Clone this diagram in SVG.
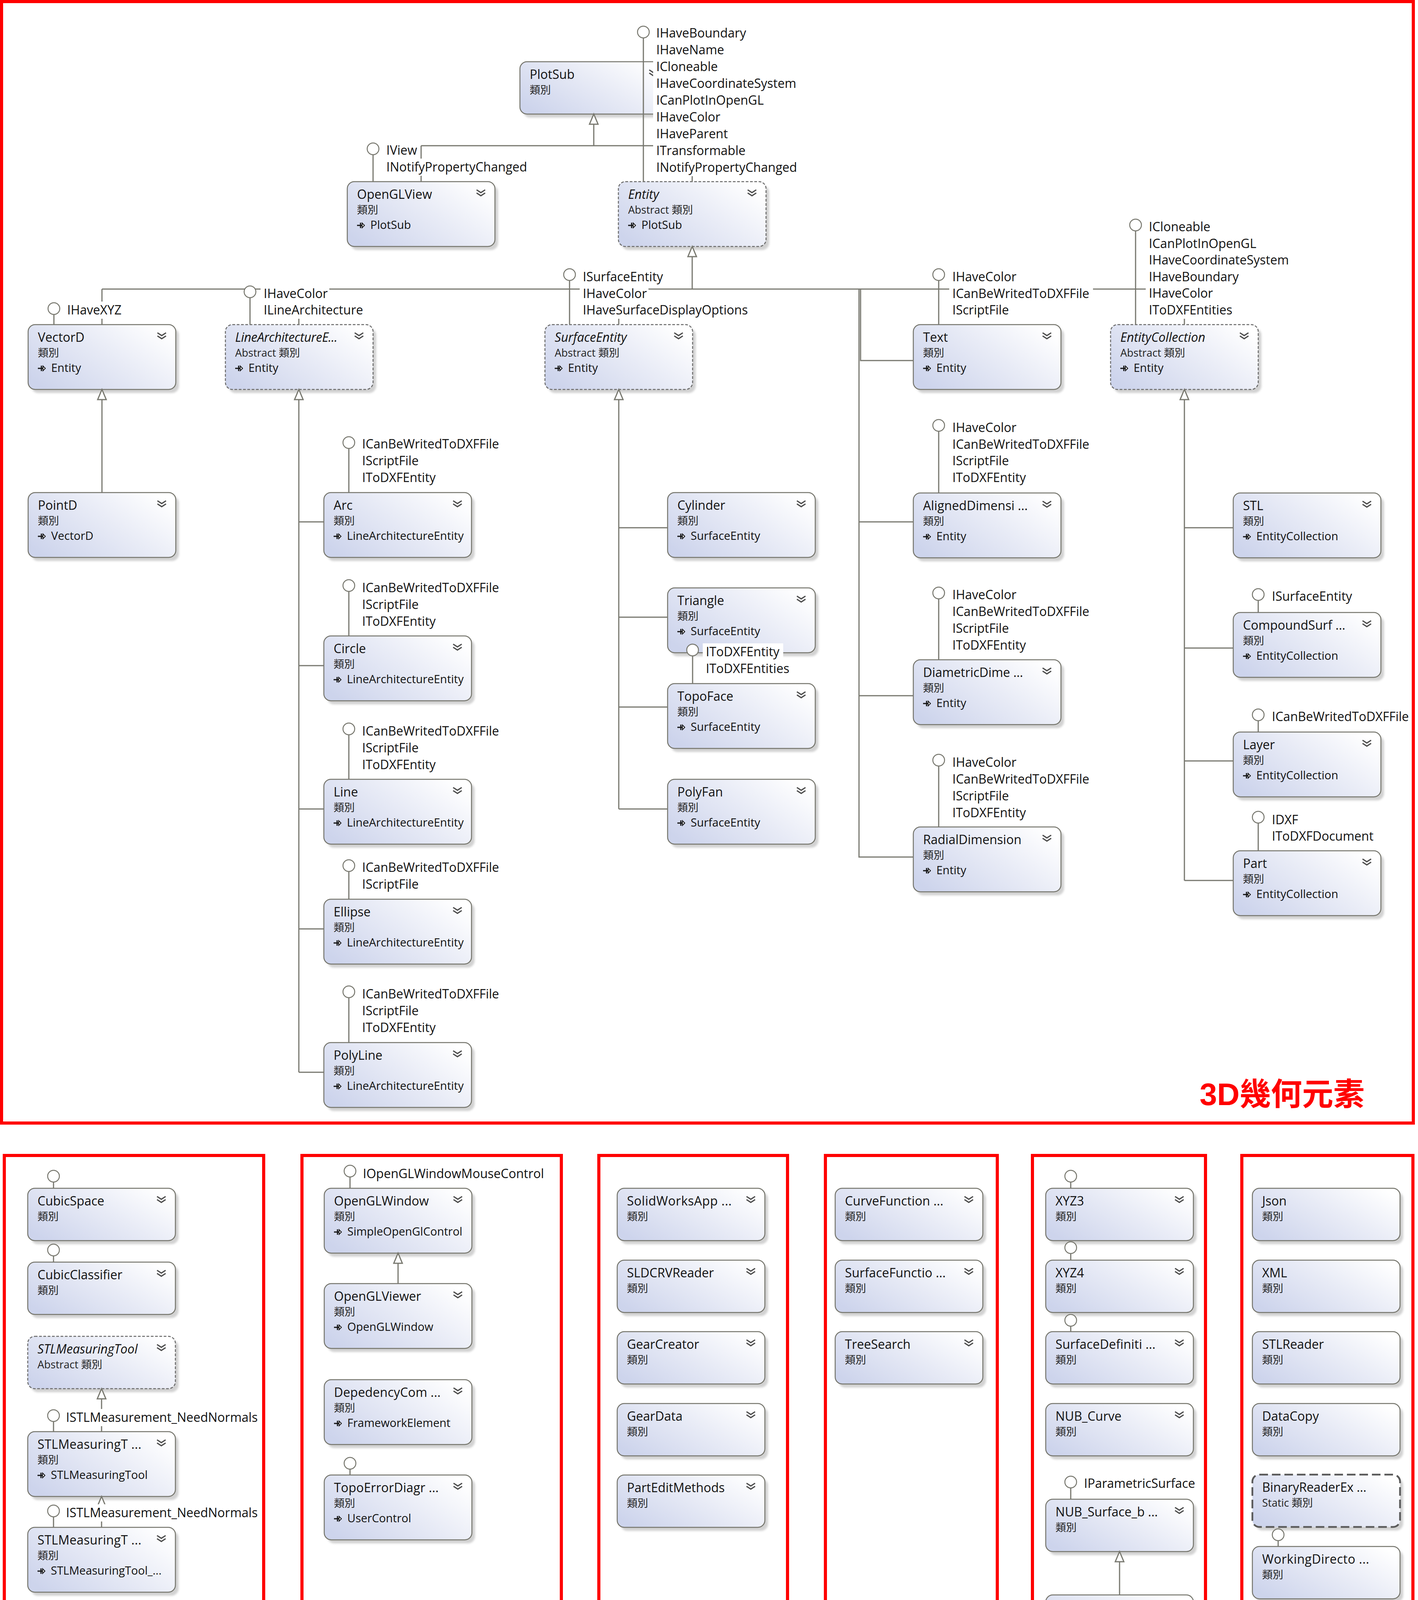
<svg xmlns="http://www.w3.org/2000/svg" width="3630" height="5307" viewBox="0 0 3630 5307">
<style>
.bx{stroke:#75756c;stroke-width:2.5}
.cl{fill:url(#gc)}
.if{fill:url(#gi)}
.en{fill:url(#ge)}
.ab{stroke-dasharray:7 4;stroke:#6a6a6a}
.stc{stroke-dasharray:22 10;stroke:#5a5a5a;stroke-width:4.5}
.sh{fill:#b4b4b4;opacity:.6;filter:url(#bl)}
text{font-family:'Open Sans','Noto Sans CJK TC',sans-serif;fill:#111}
.t{font-size:32px}
.it{font-style:italic}
.s{font-size:27px;fill:#222}
.b{font-size:29px}
.l{font-size:32px}
.lb{fill:#fff}
.rt{font-family:'Liberation Sans','Noto Sans CJK TC',sans-serif;font-weight:bold;font-size:80px;fill:#ff0000}
.rp{fill:none;stroke:#ff0000;stroke-width:8}
.cn{fill:none;stroke:#77776e;stroke-width:3}
.ar{fill:#fff;stroke:#77776e;stroke-width:3}
.lp{fill:#fff;stroke:#77776e;stroke-width:2.5}
</style>
<defs>
<linearGradient id="gc" x1="0" y1="0.8" x2="1" y2="0.2"><stop offset="0" stop-color="#cdd4ec"/><stop offset="0.55" stop-color="#e8ebf6"/><stop offset="1" stop-color="#ffffff"/></linearGradient>
<linearGradient id="gi" x1="0" y1="0.8" x2="1" y2="0.2"><stop offset="0" stop-color="#d9e6cc"/><stop offset="0.55" stop-color="#eef4ea"/><stop offset="1" stop-color="#ffffff"/></linearGradient>
<linearGradient id="ge" x1="0" y1="0.8" x2="1" y2="0.2"><stop offset="0" stop-color="#d6d0ec"/><stop offset="0.55" stop-color="#ebe8f6"/><stop offset="1" stop-color="#ffffff"/></linearGradient>
<filter id="bl" x="-5%" y="-5%" width="110%" height="115%"><feGaussianBlur stdDeviation="2.5"/></filter>
<g id="chev"><path d="M-11,-10 L0,-3 L11,-10 M-11,-2 L0,5 L11,-2" fill="none" stroke="#4a4a4a" stroke-width="3.2"/></g>
<g id="inh"><path d="M0,0 H12 M9,-7 V7" fill="none" stroke="#111" stroke-width="3"/><path d="M13,-6 L19,0 L13,6 Z" fill="#fff" stroke="#111" stroke-width="2"/></g>
<g id="c3"><rect class="sh" x="8" y="9" width="378" height="166" rx="18"/><rect class="bx cl" width="378" height="166" rx="18"/><use href="#chev" x="342" y="31"/></g>
<g id="c2"><rect class="sh" x="8" y="9" width="378" height="134" rx="18"/><rect class="bx cl" width="378" height="134" rx="18"/><use href="#chev" x="342" y="31"/></g>
<g id="a3"><rect class="sh" x="8" y="9" width="378" height="166" rx="18"/><rect class="bx cl ab" width="378" height="166" rx="18"/><use href="#chev" x="342" y="31"/></g>
<g id="a2"><rect class="sh" x="8" y="9" width="378" height="134" rx="18"/><rect class="bx cl ab" width="378" height="134" rx="18"/><use href="#chev" x="342" y="31"/></g>
<g id="n2"><rect class="sh" x="8" y="9" width="378" height="134" rx="18"/><rect class="bx cl" width="378" height="134" rx="18"/></g>
<g id="s2"><rect class="sh" x="8" y="9" width="378" height="134" rx="18"/><rect class="bx cl stc" width="378" height="134" rx="18"/></g>
<g id="i2"><rect class="sh" x="8" y="9" width="377" height="134" rx="18"/><rect class="bx if" width="377" height="134" rx="18"/><use href="#chev" x="341" y="31"/></g>
<g id="i3"><rect class="sh" x="8" y="9" width="377" height="166" rx="18"/><rect class="bx if" width="377" height="166" rx="18"/><use href="#chev" x="341" y="31"/></g>
<g id="e2"><rect class="sh" x="10" y="13" width="377" height="134"/><rect class="bx en" width="377" height="134" style="stroke:#8a8a8a"/><use href="#chev" x="341" y="31"/></g>
</defs>
<rect width="3630" height="5307" fill="#ffffff"/>

<g id="nodes">
<g id="n-PlotSub" transform="translate(1331,158)"><use href="#c2"/><text class="t" x="25" y="44">PlotSub</text><text class="s" x="25" y="82">類別</text></g>
<g id="n-OpenGLView" transform="translate(889,465)"><use href="#c3"/><text class="t" x="25" y="44">OpenGLView</text><text class="s" x="25" y="82">類別</text><use href="#inh" x="25" y="112"/><text class="b" x="59" y="121">PlotSub</text></g>
<g id="n-Entity" transform="translate(1583,465)"><use href="#a3"/><text class="t it" x="25" y="44">Entity</text><text class="s" x="25" y="82">Abstract 類別</text><use href="#inh" x="25" y="112"/><text class="b" x="59" y="121">PlotSub</text></g>
<g id="n-VectorD" transform="translate(72,831)"><use href="#c3"/><text class="t" x="25" y="44">VectorD</text><text class="s" x="25" y="82">類別</text><use href="#inh" x="25" y="112"/><text class="b" x="59" y="121">Entity</text></g>
<g id="n-LineArchitectureEntity" transform="translate(577,831)"><use href="#a3"/><text class="t it" x="25" y="44" textLength="262" lengthAdjust="spacing">LineArchitectureE...</text><text class="s" x="25" y="82">Abstract 類別</text><use href="#inh" x="25" y="112"/><text class="b" x="59" y="121">Entity</text></g>
<g id="n-SurfaceEntity" transform="translate(1395,831)"><use href="#a3"/><text class="t it" x="25" y="44">SurfaceEntity</text><text class="s" x="25" y="82">Abstract 類別</text><use href="#inh" x="25" y="112"/><text class="b" x="59" y="121">Entity</text></g>
<g id="n-Text" transform="translate(2338,831)"><use href="#c3"/><text class="t" x="25" y="44">Text</text><text class="s" x="25" y="82">類別</text><use href="#inh" x="25" y="112"/><text class="b" x="59" y="121">Entity</text></g>
<g id="n-EntityCollection" transform="translate(2843,831)"><use href="#a3"/><text class="t it" x="25" y="44">EntityCollection</text><text class="s" x="25" y="82">Abstract 類別</text><use href="#inh" x="25" y="112"/><text class="b" x="59" y="121">Entity</text></g>
<g id="n-PointD" transform="translate(72,1261)"><use href="#c3"/><text class="t" x="25" y="44">PointD</text><text class="s" x="25" y="82">類別</text><use href="#inh" x="25" y="112"/><text class="b" x="59" y="121">VectorD</text></g>
<g id="n-Arc" transform="translate(829,1261)"><use href="#c3"/><text class="t" x="25" y="44">Arc</text><text class="s" x="25" y="82">類別</text><use href="#inh" x="25" y="112"/><text class="b" x="59" y="121">LineArchitectureEntity</text></g>
<g id="n-Circle" transform="translate(829,1628)"><use href="#c3"/><text class="t" x="25" y="44">Circle</text><text class="s" x="25" y="82">類別</text><use href="#inh" x="25" y="112"/><text class="b" x="59" y="121">LineArchitectureEntity</text></g>
<g id="n-Line" transform="translate(829,1995)"><use href="#c3"/><text class="t" x="25" y="44">Line</text><text class="s" x="25" y="82">類別</text><use href="#inh" x="25" y="112"/><text class="b" x="59" y="121">LineArchitectureEntity</text></g>
<g id="n-Ellipse" transform="translate(829,2302)"><use href="#c3"/><text class="t" x="25" y="44">Ellipse</text><text class="s" x="25" y="82">類別</text><use href="#inh" x="25" y="112"/><text class="b" x="59" y="121">LineArchitectureEntity</text></g>
<g id="n-PolyLine" transform="translate(829,2669)"><use href="#c3"/><text class="t" x="25" y="44">PolyLine</text><text class="s" x="25" y="82">類別</text><use href="#inh" x="25" y="112"/><text class="b" x="59" y="121">LineArchitectureEntity</text></g>
<g id="n-Cylinder" transform="translate(1709,1261)"><use href="#c3"/><text class="t" x="25" y="44">Cylinder</text><text class="s" x="25" y="82">類別</text><use href="#inh" x="25" y="112"/><text class="b" x="59" y="121">SurfaceEntity</text></g>
<g id="n-Triangle" transform="translate(1709,1505)"><use href="#c3"/><text class="t" x="25" y="44">Triangle</text><text class="s" x="25" y="82">類別</text><use href="#inh" x="25" y="112"/><text class="b" x="59" y="121">SurfaceEntity</text></g>
<g id="n-TopoFace" transform="translate(1709,1750)"><use href="#c3"/><text class="t" x="25" y="44">TopoFace</text><text class="s" x="25" y="82">類別</text><use href="#inh" x="25" y="112"/><text class="b" x="59" y="121">SurfaceEntity</text></g>
<g id="n-PolyFan" transform="translate(1709,1995)"><use href="#c3"/><text class="t" x="25" y="44">PolyFan</text><text class="s" x="25" y="82">類別</text><use href="#inh" x="25" y="112"/><text class="b" x="59" y="121">SurfaceEntity</text></g>
<g id="n-AlignedDimension" transform="translate(2338,1262)"><use href="#c3"/><text class="t" x="25" y="44" textLength="268" lengthAdjust="spacing">AlignedDimensi ...</text><text class="s" x="25" y="82">類別</text><use href="#inh" x="25" y="112"/><text class="b" x="59" y="121">Entity</text></g>
<g id="n-DiametricDimension" transform="translate(2338,1689)"><use href="#c3"/><text class="t" x="25" y="44" textLength="256" lengthAdjust="spacing">DiametricDime ...</text><text class="s" x="25" y="82">類別</text><use href="#inh" x="25" y="112"/><text class="b" x="59" y="121">Entity</text></g>
<g id="n-RadialDimension" transform="translate(2338,2117)"><use href="#c3"/><text class="t" x="25" y="44">RadialDimension</text><text class="s" x="25" y="82">類別</text><use href="#inh" x="25" y="112"/><text class="b" x="59" y="121">Entity</text></g>
<g id="n-STL" transform="translate(3157,1262)"><use href="#c3"/><text class="t" x="25" y="44">STL</text><text class="s" x="25" y="82">類別</text><use href="#inh" x="25" y="112"/><text class="b" x="59" y="121">EntityCollection</text></g>
<g id="n-CompoundSurface" transform="translate(3157,1568)"><use href="#c3"/><text class="t" x="25" y="44" textLength="262" lengthAdjust="spacing">CompoundSurf ...</text><text class="s" x="25" y="82">類別</text><use href="#inh" x="25" y="112"/><text class="b" x="59" y="121">EntityCollection</text></g>
<g id="n-Layer" transform="translate(3157,1874)"><use href="#c3"/><text class="t" x="25" y="44">Layer</text><text class="s" x="25" y="82">類別</text><use href="#inh" x="25" y="112"/><text class="b" x="59" y="121">EntityCollection</text></g>
<g id="n-Part" transform="translate(3157,2178)"><use href="#c3"/><text class="t" x="25" y="44">Part</text><text class="s" x="25" y="82">類別</text><use href="#inh" x="25" y="112"/><text class="b" x="59" y="121">EntityCollection</text></g>

<g id="n-CubicSpace" transform="translate(71,3042)"><use href="#c2"/><text class="t" x="25" y="44">CubicSpace</text><text class="s" x="25" y="82">類別</text></g>
<g id="n-CubicClassifier" transform="translate(71,3231)"><use href="#c2"/><text class="t" x="25" y="44">CubicClassifier</text><text class="s" x="25" y="82">類別</text></g>
<g id="n-STLMeasuringTool" transform="translate(71,3421)"><use href="#a2"/><text class="t it" x="25" y="44">STLMeasuringTool</text><text class="s" x="25" y="82">Abstract 類別</text></g>
<g id="n-STLMeasuringT1" transform="translate(71,3665)"><use href="#c3"/><text class="t" x="25" y="44" textLength="266" lengthAdjust="spacing">STLMeasuringT ...</text><text class="s" x="25" y="82">類別</text><use href="#inh" x="25" y="112"/><text class="b" x="59" y="121">STLMeasuringTool</text></g>
<g id="n-STLMeasuringT2" transform="translate(71,3910)"><use href="#c3"/><text class="t" x="25" y="44" textLength="266" lengthAdjust="spacing">STLMeasuringT ...</text><text class="s" x="25" y="82">類別</text><use href="#inh" x="25" y="112"/><text class="b" x="59" y="121">STLMeasuringTool_...</text></g>
<g id="n-STLMeasuringT3" transform="translate(71,4127)"><use href="#c2"/><text class="t" x="25" y="44" textLength="266" lengthAdjust="spacing">STLMeasuringT ...</text><text class="s" x="25" y="82">類別</text></g>

<g id="n-OpenGLWindow" transform="translate(830,3042)"><use href="#c3"/><text class="t" x="25" y="44">OpenGLWindow</text><text class="s" x="25" y="82">類別</text><use href="#inh" x="25" y="112"/><text class="b" x="59" y="121">SimpleOpenGlControl</text></g>
<g id="n-OpenGLViewer" transform="translate(830,3286)"><use href="#c3"/><text class="t" x="25" y="44">OpenGLViewer</text><text class="s" x="25" y="82">類別</text><use href="#inh" x="25" y="112"/><text class="b" x="59" y="121">OpenGLWindow</text></g>
<g id="n-DepedencyCom" transform="translate(830,3532)"><use href="#c3"/><text class="t" x="25" y="44" textLength="273" lengthAdjust="spacing">DepedencyCom ...</text><text class="s" x="25" y="82">類別</text><use href="#inh" x="25" y="112"/><text class="b" x="59" y="121">FrameworkElement</text></g>
<g id="n-TopoErrorDiagr" transform="translate(830,3776)"><use href="#c3"/><text class="t" x="25" y="44" textLength="268" lengthAdjust="spacing">TopoErrorDiagr ...</text><text class="s" x="25" y="82">類別</text><use href="#inh" x="25" y="112"/><text class="b" x="59" y="121">UserControl</text></g>

<g id="n-SolidWorksApp" transform="translate(1580,3042)"><use href="#c2"/><text class="t" x="25" y="44" textLength="268" lengthAdjust="spacing">SolidWorksApp ...</text><text class="s" x="25" y="82">類別</text></g>
<g id="n-SLDCRVReader" transform="translate(1580,3226)"><use href="#c2"/><text class="t" x="25" y="44">SLDCRVReader</text><text class="s" x="25" y="82">類別</text></g>
<g id="n-GearCreator" transform="translate(1580,3409)"><use href="#c2"/><text class="t" x="25" y="44">GearCreator</text><text class="s" x="25" y="82">類別</text></g>
<g id="n-GearData" transform="translate(1580,3593)"><use href="#c2"/><text class="t" x="25" y="44">GearData</text><text class="s" x="25" y="82">類別</text></g>
<g id="n-PartEditMethods" transform="translate(1580,3776)"><use href="#c2"/><text class="t" x="25" y="44">PartEditMethods</text><text class="s" x="25" y="82">類別</text></g>

<g id="n-CurveFunction" transform="translate(2138,3042)"><use href="#c2"/><text class="t" x="25" y="44" textLength="252" lengthAdjust="spacing">CurveFunction ...</text><text class="s" x="25" y="82">類別</text></g>
<g id="n-SurfaceFunction" transform="translate(2138,3226)"><use href="#c2"/><text class="t" x="25" y="44" textLength="258" lengthAdjust="spacing">SurfaceFunctio ...</text><text class="s" x="25" y="82">類別</text></g>
<g id="n-TreeSearch" transform="translate(2138,3409)"><use href="#c2"/><text class="t" x="25" y="44">TreeSearch</text><text class="s" x="25" y="82">類別</text></g>

<g id="n-XYZ3" transform="translate(2677,3042)"><use href="#c2"/><text class="t" x="25" y="44">XYZ3</text><text class="s" x="25" y="82">類別</text></g>
<g id="n-XYZ4" transform="translate(2677,3226)"><use href="#c2"/><text class="t" x="25" y="44">XYZ4</text><text class="s" x="25" y="82">類別</text></g>
<g id="n-SurfaceDefinition" transform="translate(2677,3409)"><use href="#c2"/><text class="t" x="25" y="44" textLength="256" lengthAdjust="spacing">SurfaceDefiniti ...</text><text class="s" x="25" y="82">類別</text></g>
<g id="n-NUB_Curve" transform="translate(2677,3593)"><use href="#c2"/><text class="t" x="25" y="44">NUB_Curve</text><text class="s" x="25" y="82">類別</text></g>
<g id="n-NUB_Surface_base" transform="translate(2677,3838)"><use href="#c2"/><text class="t" x="25" y="44" textLength="262" lengthAdjust="spacing">NUB_Surface_b ...</text><text class="s" x="25" y="82">類別</text></g>
<g id="n-NUB_Surface" transform="translate(2677,4083)"><use href="#c3"/><text class="t" x="25" y="44">NUB_Surface</text><text class="s" x="25" y="82">類別</text><use href="#inh" x="25" y="112"/><text class="b" x="59" y="121">NUB_Surface_base</text></g>

<g id="n-Json" transform="translate(3206,3042)"><use href="#n2"/><text class="t" x="25" y="44">Json</text><text class="s" x="25" y="82">類別</text></g>
<g id="n-XML" transform="translate(3206,3226)"><use href="#n2"/><text class="t" x="25" y="44">XML</text><text class="s" x="25" y="82">類別</text></g>
<g id="n-STLReader" transform="translate(3206,3409)"><use href="#n2"/><text class="t" x="25" y="44">STLReader</text><text class="s" x="25" y="82">類別</text></g>
<g id="n-DataCopy" transform="translate(3206,3593)"><use href="#n2"/><text class="t" x="25" y="44">DataCopy</text><text class="s" x="25" y="82">類別</text></g>
<g id="n-BinaryReaderEx" transform="translate(3206,3775)"><use href="#s2"/><text class="t" x="25" y="44" textLength="267" lengthAdjust="spacing">BinaryReaderEx ...</text><text class="s" x="25" y="82">Static 類別</text></g>
<g id="n-WorkingDirectory" transform="translate(3206,3959)"><use href="#n2"/><text class="t" x="25" y="44" textLength="274" lengthAdjust="spacing">WorkingDirecto ...</text><text class="s" x="25" y="82">類別</text></g>

<g id="n-ICanBeWritedToDXFFile" transform="translate(72,4572)"><use href="#i2"/><text class="t" x="25" y="44" textLength="261" lengthAdjust="spacing">ICanBeWritedT ...</text><text class="s" x="25" y="82">介面</text></g>
<g id="n-ICanPlotInOpenGL" transform="translate(514,4572)"><use href="#i2"/><text class="t" x="25" y="44" textLength="270" lengthAdjust="spacing">ICanPlotInOpen ...</text><text class="s" x="25" y="82">介面</text></g>
<g id="n-IDXF" transform="translate(954,4572)"><use href="#i2"/><text class="t" x="25" y="44">IDXF</text><text class="s" x="25" y="82">介面</text></g>
<g id="n-IDXFExporter" transform="translate(1395,4572)"><use href="#i2"/><text class="t" x="25" y="44">IDXFExporter</text><text class="s" x="25" y="82">介面</text></g>
<g id="n-IHaveBoundary" transform="translate(1835,4572)"><use href="#i2"/><text class="t" x="25" y="44">IHaveBoundary</text><text class="s" x="25" y="82">介面</text></g>
<g id="n-IHaveCoordinateSystem" transform="translate(2276,4572)"><use href="#i2"/><text class="t" x="25" y="44" textLength="270" lengthAdjust="spacing">IHaveCoordinat ...</text><text class="s" x="25" y="82">介面</text></g>
<g id="n-IHaveName" transform="translate(2716,4572)"><use href="#i2"/><text class="t" x="25" y="44">IHaveName</text><text class="s" x="25" y="82">介面</text></g>
<g id="n-IHaveParent" transform="translate(3156,4572)"><use href="#i2"/><text class="t" x="25" y="44">IHaveParent</text><text class="s" x="25" y="82">介面</text></g>

<g id="n-IHaveXYZ" transform="translate(72,4756)"><use href="#i2"/><text class="t" x="25" y="44">IHaveXYZ</text><text class="s" x="25" y="82">介面</text></g>
<g id="n-ILineArchitecture" transform="translate(514,4756)"><use href="#i2"/><text class="t" x="25" y="44">ILineArchitecture</text><text class="s" x="25" y="82">介面</text></g>
<g id="n-IOpenGLWindowMouseControl" transform="translate(954,4756)"><use href="#i2"/><text class="t" x="25" y="44" textLength="266" lengthAdjust="spacing">IOpenGLWindo ...</text><text class="s" x="25" y="82">介面</text></g>
<g id="n-IParametricSurface" transform="translate(1395,4756)"><use href="#i2"/><text class="t" x="25" y="44" textLength="266" lengthAdjust="spacing">IParametricSurf ...</text><text class="s" x="25" y="82">介面</text></g>
<g id="n-IScriptFile" transform="translate(1835,4756)"><use href="#i2"/><text class="t" x="25" y="44">IScriptFile</text><text class="s" x="25" y="82">介面</text></g>
<g id="n-ISTLMeasurement" transform="translate(2276,4756)"><use href="#i2"/><text class="t" x="25" y="44" textLength="272" lengthAdjust="spacing">ISTLMeasureme ...</text><text class="s" x="25" y="82">介面</text></g>
<g id="n-ISurfaceEntity" transform="translate(2716,4756)"><use href="#i2"/><text class="t" x="25" y="44">ISurfaceEntity</text><text class="s" x="25" y="82">介面</text></g>
<g id="n-ITag" transform="translate(3156,4756)"><use href="#i2"/><text class="t" x="25" y="44">ITag</text><text class="s" x="25" y="82">介面</text></g>

<g id="n-IToDXFEntity" transform="translate(72,4939)"><use href="#i2"/><text class="t" x="25" y="44">IToDXFEntity</text><text class="s" x="25" y="82">介面</text></g>
<g id="n-ITransformable" transform="translate(514,4939)"><use href="#i2"/><text class="t" x="25" y="44">ITransformable</text><text class="s" x="25" y="82">介面</text></g>
<g id="n-IUnit" transform="translate(954,4939)"><use href="#i2"/><text class="t" x="25" y="44">IUnit</text><text class="s" x="25" y="82">介面</text></g>
<g id="n-IView" transform="translate(1395,4939)"><use href="#i2"/><text class="t" x="25" y="44">IView</text><text class="s" x="25" y="82">介面</text></g>
<g id="n-IXYZ" transform="translate(1835,4939)"><use href="#i3"/><text class="t" x="25" y="44">IXYZ</text><text class="s" x="25" y="82">介面</text><use href="#inh" x="25" y="112"/><text class="b" x="59" y="121">ICloneable</text></g>
<g id="n-IHaveSurfaceDisplayOptions" transform="translate(2276,4939)"><use href="#i2"/><text class="t" x="25" y="44" textLength="264" lengthAdjust="spacing">IHaveSurfaceDi ...</text><text class="s" x="25" y="82">介面</text></g>
<g id="n-IHaveWorkingDirectory" transform="translate(2655,4939)"><use href="#i2"/><text class="t" x="25" y="44" textLength="272" lengthAdjust="spacing">IHaveWorkingD ...</text><text class="s" x="25" y="82">介面</text></g>
<g id="n-IToDXFDocument" transform="translate(3156,4939)"><use href="#i2"/><text class="t" x="25" y="44">IToDXFDocument</text><text class="s" x="25" y="82">介面</text></g>

<g id="n-IToDXFEntities" transform="translate(72,5123)"><use href="#i2"/><text class="t" x="25" y="44">IToDXFEntities</text><text class="s" x="25" y="82">介面</text></g>
<g id="n-Axis" transform="translate(514,5123)"><use href="#e2"/><text class="t" x="25" y="44">Axis</text><text class="s" x="25" y="82">列舉</text></g>
<g id="n-Dimension" transform="translate(954,5123)"><use href="#e2"/><text class="t" x="25" y="44">Dimension</text><text class="s" x="25" y="82">列舉</text></g>
<g id="n-LineType" transform="translate(1395,5123)"><use href="#e2"/><text class="t" x="25" y="44">LineType</text><text class="s" x="25" y="82">列舉</text></g>
<g id="n-SurfaceDisplay" transform="translate(1835,5123)"><use href="#e2"/><text class="t" x="25" y="44" textLength="257" lengthAdjust="spacing">SurfaceDisplay ...</text><text class="s" x="25" y="82">列舉</text></g>
<g id="n-Visibility" transform="translate(2276,5123)"><use href="#e2"/><text class="t" x="25" y="44">Visibility</text><text class="s" x="25" y="82">列舉</text></g>
</g>

<g id="connectors">
<path class="cn" d="M1520,318 V373 M1078,373 H1772 M1078,373 V465 M1772,373 V465"/>
<path class="cn" d="M1772,657 V740 M261,740 H3032 M261,740 V831 M765,740 V831 M1584,740 V831 M3032,740 V831"/>
<path class="cn" d="M2203,740 V923 H2338 M2199,740 V1336 H2338 M2199,740 V1781 H2338 M2199,740 V2194 H2338"/>
<path class="cn" d="M261,1023 V1261"/>
<path class="cn" d="M765,1023 V2745 M765,1336 H829 M765,1704 H829 M765,2071 H829 M765,2378 H829 M765,2745 H829"/>
<path class="cn" d="M1584,1023 V2071 M1584,1351 H1709 M1584,1580 H1709 M1584,1810 H1709 M1584,2071 H1709"/>
<path class="cn" d="M3032,1023 V2254 M3032,1351 H3157 M3032,1659 H3157 M3032,1948 H3157 M3032,2254 H3157"/>
<path class="cn" d="M260,3581 V3665 M260,3857 V3910 M1019,3234 V3286 M2866,3998 V4083"/>
<path class="ar" d="M1520,292 L1509,318 L1531,318 Z"/>
<path class="ar" d="M1772,631 L1761,657 L1783,657 Z"/>
<path class="ar" d="M261,997 L250,1023 L272,1023 Z"/>
<path class="ar" d="M765,997 L754,1023 L776,1023 Z"/>
<path class="ar" d="M1584,997 L1573,1023 L1595,1023 Z"/>
<path class="ar" d="M3032,997 L3021,1023 L3043,1023 Z"/>
<path class="ar" d="M260,3555 L249,3581 L271,3581 Z"/>
<path class="ar" d="M260,3831 L249,3857 L271,3857 Z"/>
<path class="ar" d="M1019,3208 L1008,3234 L1030,3234 Z"/>
<path class="ar" d="M2866,3972 L2855,3998 L2877,3998 Z"/>
<path class="cn" d="M1647,97 V465 M955,396 V465 M138,805 V831 M640,762 V831 M1458,718 V831 M2403,718 V831 M2907,591 V831 M893,1148 V1261 M893,1514 V1628 M893,1881 V1995 M893,2231 V2302 M893,2554 V2669 M1773,1679 V1750 M2403,1104 V1262 M2403,1533 V1689 M2403,1961 V2117 M3221,1537 V1568 M3221,1845 V1874 M3221,2107 V2178 M137,3026 V3042 M137,3215 V3231 M137,3639 V3665 M137,3883 V3910 M896,3013 V3042 M896,3761 V3776 M2741,3026 V3042 M2741,3209 V3226 M2741,3395 V3409 M2741,3809 V3838 M3272,3944 V3959"/>
<g class="lp">
<circle cx="1647" cy="82" r="15"/><circle cx="955" cy="381" r="15"/><circle cx="138" cy="790" r="15"/><circle cx="640" cy="747" r="15"/><circle cx="1458" cy="703" r="15"/><circle cx="2403" cy="703" r="15"/><circle cx="2907" cy="576" r="15"/>
<circle cx="893" cy="1133" r="15"/><circle cx="893" cy="1499" r="15"/><circle cx="893" cy="1866" r="15"/><circle cx="893" cy="2216" r="15"/><circle cx="893" cy="2539" r="15"/>
<circle cx="1773" cy="1664" r="15"/><circle cx="2403" cy="1089" r="15"/><circle cx="2403" cy="1518" r="15"/><circle cx="2403" cy="1946" r="15"/>
<circle cx="3221" cy="1522" r="15"/><circle cx="3221" cy="1830" r="15"/><circle cx="3221" cy="2092" r="15"/>
<circle cx="137" cy="3011" r="15"/><circle cx="137" cy="3200" r="15"/><circle cx="137" cy="3624" r="15"/><circle cx="137" cy="3868" r="15"/>
<circle cx="896" cy="2998" r="15"/><circle cx="896" cy="3746" r="15"/>
<circle cx="2741" cy="3011" r="15"/><circle cx="2741" cy="3194" r="15"/><circle cx="2741" cy="3380" r="15"/><circle cx="2741" cy="3794" r="15"/><circle cx="3272" cy="3929" r="15"/>
</g>
</g>

<g id="labels">
<g id="lbl-Entity">
<rect class="lb" x="1672" y="63" width="237" height="44"/><rect class="lb" x="1672" y="106" width="185" height="44"/><rect class="lb" x="1672" y="149" width="169" height="44"/><rect class="lb" x="1672" y="192" width="363" height="44"/><rect class="lb" x="1672" y="235" width="286" height="44"/><rect class="lb" x="1672" y="278" width="176" height="44"/><rect class="lb" x="1672" y="321" width="194" height="44"/><rect class="lb" x="1672" y="364" width="231" height="44"/><rect class="lb" x="1672" y="407" width="358" height="44"/>
<text class="l" x="1680" y="96">IHaveBoundary</text><text class="l" x="1680" y="139">IHaveName</text><text class="l" x="1680" y="182">ICloneable</text><text class="l" x="1680" y="225">IHaveCoordinateSystem</text><text class="l" x="1680" y="268">ICanPlotInOpenGL</text><text class="l" x="1680" y="311">IHaveColor</text><text class="l" x="1680" y="354">IHaveParent</text><text class="l" x="1680" y="397">ITransformable</text><text class="l" x="1680" y="440">INotifyPropertyChanged</text>
</g>
<g id="lbl-OpenGLView">
<rect class="lb" x="981" y="363" width="94" height="44"/><rect class="lb" x="981" y="406" width="358" height="44"/>
<text class="l" x="989" y="396">IView</text><text class="l" x="989" y="439">INotifyPropertyChanged</text>
</g>
<g id="lbl-VectorD"><rect class="lb" x="164" y="772" width="162" height="44"/><text class="l" x="172" y="805">IHaveXYZ</text></g>
<g id="lbl-LineArch">
<rect class="lb" x="667" y="730" width="176" height="44"/><rect class="lb" x="667" y="772" width="256" height="44"/>
<text class="l" x="675" y="763">IHaveColor</text><text class="l" x="675" y="805">ILineArchitecture</text>
</g>
<g id="lbl-SurfaceEntity">
<rect class="lb" x="1484" y="687" width="215" height="44"/><rect class="lb" x="1484" y="730" width="176" height="44"/><rect class="lb" x="1484" y="772" width="425" height="44"/>
<text class="l" x="1492" y="720">ISurfaceEntity</text><text class="l" x="1492" y="763">IHaveColor</text><text class="l" x="1492" y="805">IHaveSurfaceDisplayOptions</text>
</g>
<g id="lbl-Text">
<rect class="lb" x="2430" y="687" width="176" height="44"/><rect class="lb" x="2430" y="730" width="368" height="44"/><rect class="lb" x="2430" y="772" width="158" height="44"/>
<text class="l" x="2438" y="720">IHaveColor</text><text class="l" x="2438" y="763">ICanBeWritedToDXFFile</text><text class="l" x="2438" y="805">IScriptFile</text>
</g>
<g id="lbl-EntityCollection">
<rect class="lb" x="2933" y="559" width="169" height="44"/><rect class="lb" x="2933" y="602" width="286" height="44"/><rect class="lb" x="2933" y="644" width="363" height="44"/><rect class="lb" x="2933" y="687" width="237" height="44"/><rect class="lb" x="2933" y="729" width="176" height="44"/><rect class="lb" x="2933" y="772" width="231" height="44"/>
<text class="l" x="2941" y="592">ICloneable</text><text class="l" x="2941" y="635">ICanPlotInOpenGL</text><text class="l" x="2941" y="677">IHaveCoordinateSystem</text><text class="l" x="2941" y="720">IHaveBoundary</text><text class="l" x="2941" y="762">IHaveColor</text><text class="l" x="2941" y="805">IToDXFEntities</text>
</g>
<g id="lbl-Arc">
<text class="l" x="927" y="1148">ICanBeWritedToDXFFile</text><text class="l" x="927" y="1191">IScriptFile</text><text class="l" x="927" y="1234">IToDXFEntity</text>
</g>
<g id="lbl-Circle">
<text class="l" x="927" y="1516">ICanBeWritedToDXFFile</text><text class="l" x="927" y="1559">IScriptFile</text><text class="l" x="927" y="1602">IToDXFEntity</text>
</g>
<g id="lbl-Line">
<text class="l" x="927" y="1883">ICanBeWritedToDXFFile</text><text class="l" x="927" y="1926">IScriptFile</text><text class="l" x="927" y="1969">IToDXFEntity</text>
</g>
<g id="lbl-Ellipse">
<text class="l" x="927" y="2232">ICanBeWritedToDXFFile</text><text class="l" x="927" y="2275">IScriptFile</text>
</g>
<g id="lbl-PolyLine">
<text class="l" x="927" y="2556">ICanBeWritedToDXFFile</text><text class="l" x="927" y="2599">IScriptFile</text><text class="l" x="927" y="2642">IToDXFEntity</text>
</g>
<g id="lbl-TopoFace">
<rect class="lb" x="1799" y="1647" width="206" height="44"/><rect class="lb" x="1799" y="1690" width="231" height="44"/>
<text class="l" x="1807" y="1680">IToDXFEntity</text><text class="l" x="1807" y="1723">IToDXFEntities</text>
</g>
<g id="lbl-Aligned">
<text class="l" x="2438" y="1106">IHaveColor</text><text class="l" x="2438" y="1149">ICanBeWritedToDXFFile</text><text class="l" x="2438" y="1191">IScriptFile</text><text class="l" x="2438" y="1234">IToDXFEntity</text>
</g>
<g id="lbl-Diametric">
<text class="l" x="2438" y="1534">IHaveColor</text><text class="l" x="2438" y="1577">ICanBeWritedToDXFFile</text><text class="l" x="2438" y="1620">IScriptFile</text><text class="l" x="2438" y="1663">IToDXFEntity</text>
</g>
<g id="lbl-Radial">
<text class="l" x="2438" y="1963">IHaveColor</text><text class="l" x="2438" y="2006">ICanBeWritedToDXFFile</text><text class="l" x="2438" y="2049">IScriptFile</text><text class="l" x="2438" y="2092">IToDXFEntity</text>
</g>
<g id="lbl-CompoundSurf"><text class="l" x="3256" y="1538">ISurfaceEntity</text></g>
<g id="lbl-Layer"><text class="l" x="3256" y="1846">ICanBeWritedToDXFFile</text></g>
<g id="lbl-Part"><text class="l" x="3256" y="2110">IDXF</text><text class="l" x="3256" y="2152">IToDXFDocument</text></g>
<g id="lbl-STL1"><rect class="lb" x="161" y="3607" width="493" height="44"/><text class="l" x="169" y="3640">ISTLMeasurement_NeedNormals</text></g>
<g id="lbl-STL2"><rect class="lb" x="161" y="3851" width="493" height="44"/><text class="l" x="169" y="3884">ISTLMeasurement_NeedNormals</text></g>
<g id="lbl-OpenGLWindow"><text class="l" x="929" y="3016">IOpenGLWindowMouseControl</text></g>
<g id="lbl-NUB"><text class="l" x="2775" y="3809">IParametricSurface</text></g>
</g>

<g id="panels">
<rect class="rp" x="4" y="4" width="3614" height="2871"/>
<rect class="rp" x="11" y="2958" width="664" height="1492"/>
<rect class="rp" x="773" y="2958" width="664" height="1492"/>
<rect class="rp" x="1533" y="2958" width="483" height="1492"/>
<rect class="rp" x="2113" y="2958" width="440" height="1492"/>
<rect class="rp" x="2643" y="2958" width="443" height="1492"/>
<rect class="rp" x="3179" y="2958" width="438" height="1492"/>
<rect class="rp" x="13" y="4536" width="3603" height="763"/>
<text class="rt" x="3071" y="2829">3D幾何元素</text>
<text class="rt" x="88" y="4418">STL誤差計算</text>
<text class="rt" x="893" y="4418">共用UI元件</text>
<text class="rt" x="1643" y="4418">SW建模</text>
<text class="rt" x="2175" y="4418">數學方法</text>
<text class="rt" x="2720" y="4418">曲面擬合</text>
<text class="rt" x="3243" y="4418">檔案讀寫</text>
<text class="rt" x="3101" y="5255">介面、枚舉</text>
</g>
</svg>
